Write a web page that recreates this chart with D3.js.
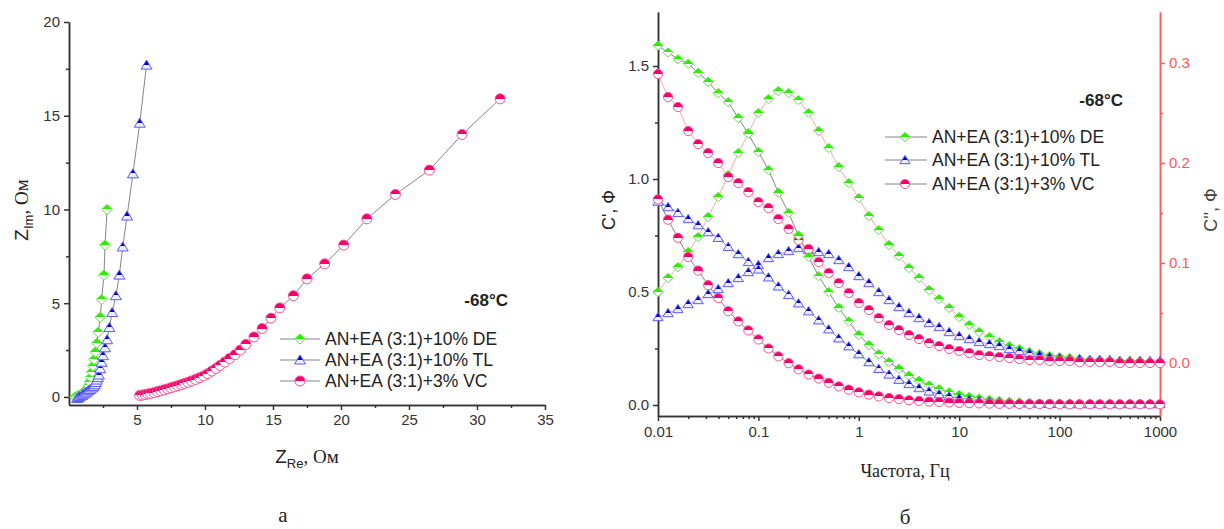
<!DOCTYPE html>
<html>
<head>
<meta charset="utf-8">
<title>Impedance spectra at -68°C</title>
<script src="https://d3js.org/d3.v7.min.js"></script>
<style>
  body { margin: 0; background: #fff; }
  svg { display: block; background: #fff; }
  text { font-family: "Liberation Sans", Arial, sans-serif; fill: #222; }
  .serif { font-family: "Liberation Serif", "Times New Roman", serif; }
  .axis path, .axis line { stroke: #333; stroke-width: 1.5; }
  .axis text { font-size: 15px; fill: #333; font-family: "Liberation Sans", Arial, sans-serif; }
  .axis.red path, .axis.red line { stroke: #ff5a5a; }
  .axis.red text { fill: #ff5a5a; }
</style>
</head>
<body>
<svg></svg>
<script>
// ---- data ----
var seriesNames = ["AN+EA (3:1)+10% DE", "AN+EA (3:1)+10% TL", "AN+EA (3:1)+3% VC"];
var tempLabel = "-68°C";

// panel a: Nyquist, Z_Re / Z_Im in Ohm
var deRe = [0.45,0.55,0.65,0.75,0.85,0.95,1.05,1.15,1.25,1.35,1.45,1.52,1.6,1.68,1.76,1.85,1.95,2.05,2.15,2.3,2.4,2.57,2.65,2.8];
var deIm = [0.0,0.03,0.06,0.09,0.13,0.18,0.24,0.3,0.38,0.48,0.62,0.8,1.05,1.33,1.65,2.0,2.4,2.87,3.45,4.25,5.2,6.5,8.1,10.0];
var tlRe = [0.6,0.7,0.8,0.95,1.05,1.18,1.3,1.42,1.55,1.7,1.8,1.9,1.98,2.05,2.13,2.2,2.3,2.4,2.5,2.65,2.8,2.97,3.17,3.45,3.7,3.95,4.27,4.7,5.2,5.7];
var tlIm = [-0.08,-0.03,0.02,0.08,0.14,0.2,0.26,0.33,0.4,0.48,0.56,0.65,0.77,0.9,1.03,1.17,1.5,1.85,2.2,2.62,3.05,3.7,4.5,5.4,6.5,8.0,9.65,11.9,14.6,17.7];
var vcRe = [5.2,5.4,5.6,5.8,6.0,6.25,6.5,6.75,7.0,7.25,7.5,7.75,8.0,8.25,8.5,8.75,9.0,9.3,9.6,9.9,10.2,10.5,10.8,11.1,11.45,11.8,12.2,12.6,13.0,13.6,14.2,14.85,15.5,16.5,17.5,18.8,20.2,21.9,24.0,26.5,28.9,31.7];
var vcIm = [0.08,0.1,0.13,0.16,0.19,0.23,0.28,0.33,0.38,0.43,0.49,0.54,0.6,0.66,0.72,0.78,0.85,0.93,1.02,1.12,1.24,1.38,1.52,1.68,1.86,2.05,2.25,2.5,2.8,3.2,3.65,4.2,4.75,5.4,6.3,7.1,8.1,9.5,10.8,12.1,14.0,15.9];

// panel б: capacitance vs frequency
var freq = [0.01,0.0126,0.0158,0.02,0.0251,0.0316,0.0398,0.0501,0.0631,0.0794,
            0.1,0.126,0.158,0.2,0.251,0.316,0.398,0.501,0.631,0.794,
            1,1.26,1.58,2,2.51,3.16,3.98,5.01,6.31,7.94,
            10,12.6,15.8,20,25.1,31.6,39.8,50.1,63.1,79.4,
            100,126,158,200,251,316,398,501,631,794,1000];
var deC1 = [1.59,1.56,1.53,1.51,1.47,1.43,1.38,1.34,1.27,1.20,
            1.12,1.04,0.94,0.85,0.75,0.655,0.57,0.50,0.43,0.37,
            0.31,0.265,0.225,0.19,0.16,0.13,0.107,0.087,0.07,0.056,
            0.045,0.036,0.029,0.023,0.018,0.014,0.011,0.009,0.007,0.006,
            0.005,0.005,0.005,0.004,0.004,0.004,0.004,0.004,0.004,0.004,0.004];
var tlC1 = [0.90,0.876,0.85,0.823,0.796,0.765,0.74,0.70,0.668,0.633,
            0.60,0.565,0.525,0.487,0.45,0.415,0.375,0.335,0.295,0.26,
            0.225,0.19,0.16,0.135,0.112,0.093,0.075,0.06,0.048,0.038,
            0.03,0.024,0.019,0.015,0.012,0.01,0.008,0.007,0.006,0.005,
            0.005,0.004,0.004,0.004,0.004,0.004,0.004,0.004,0.004,0.004,0.004];
var vcC1 = [0.91,0.82,0.74,0.655,0.595,0.53,0.473,0.415,0.37,0.33,
            0.29,0.25,0.215,0.185,0.158,0.135,0.117,0.098,0.082,0.068,
            0.056,0.046,0.038,0.031,0.026,0.021,0.018,0.015,0.013,0.011,
            0.009,0.008,0.007,0.006,0.005,0.005,0.004,0.004,0.004,0.004,
            0.003,0.003,0.003,0.003,0.003,0.003,0.003,0.003,0.003,0.003,0.003];
var deC2 = [0.071,0.085,0.096,0.111,0.126,0.146,0.166,0.188,0.21,0.23,
            0.25,0.264,0.272,0.270,0.263,0.25,0.232,0.215,0.196,0.18,
            0.165,0.147,0.133,0.118,0.107,0.095,0.085,0.073,0.064,0.055,
            0.046,0.038,0.031,0.026,0.021,0.017,0.014,0.011,0.009,0.007,
            0.006,0.005,0.004,0.003,0.003,0.002,0.002,0.002,0.002,0.001,0.001];
var tlC2 = [0.046,0.05,0.054,0.059,0.063,0.069,0.074,0.08,0.085,0.091,
            0.098,0.105,0.109,0.112,0.115,0.113,0.111,0.109,0.103,0.096,
            0.087,0.08,0.071,0.063,0.056,0.05,0.045,0.04,0.036,0.031,
            0.027,0.024,0.021,0.019,0.017,0.014,0.012,0.01,0.008,0.006,
            0.005,0.004,0.004,0.003,0.003,0.003,0.002,0.002,0.002,0.002,0.002];
var vcC2 = [0.289,0.266,0.256,0.232,0.219,0.21,0.20,0.186,0.18,0.171,
            0.161,0.155,0.144,0.134,0.123,0.114,0.101,0.09,0.08,0.07,
            0.06,0.053,0.045,0.038,0.033,0.028,0.024,0.02,0.017,0.014,
            0.012,0.01,0.008,0.007,0.006,0.005,0.004,0.003,0.003,0.002,
            0.002,0.002,0.001,0.001,0.001,0.001,0.0,0.0,0.0,0.0,0.0];

var nyqTicksX = [5,10,15,20,25,30,35];
var nyqTicksY = [0,5,10,15,20];
var freqTicks = [0.01,0.1,1,10,100,1000];
var c1Ticks = [0,0.5,1.0,1.5];
var c2Ticks = [0,0.1,0.2,0.3];

// ---- styles per series ----
var styles = [
  {id: "de", shape: "diamond",  fill: "#2aee00", edge: "#66e64d", low: "#ffffff"},
  {id: "tl", shape: "triangle", fill: "#0000cc", edge: "#5a5aff", low: "#eeeeff"},
  {id: "vc", shape: "circle",   fill: "#f5006a", edge: "#ff4f95", low: "#ffffff"}
];

var svg = d3.select("svg").attr("width", 1224).attr("height", 529);
var defs = svg.append("defs");

styles.forEach(function(s) {
  var g = defs.append("linearGradient").attr("id", "half-" + s.id)
    .attr("x1", 0).attr("y1", 0).attr("x2", 0).attr("y2", 1);
  g.append("stop").attr("offset", "0").attr("stop-color", s.fill);
  g.append("stop").attr("offset", "0.5").attr("stop-color", s.fill);
  g.append("stop").attr("offset", "0.5").attr("stop-color", s.low);
  g.append("stop").attr("offset", "1").attr("stop-color", s.low);
});

function shapePath(shape, r) {
  if (shape == "diamond") return "M0," + (-r) + "L" + (r + 0.5) + ",0L0," + r + "L" + (-r - 0.5) + ",0Z";
  if (shape == "triangle") return "M0," + (-r) + "L" + (r + 0.5) + "," + (r * 0.8) + "L" + (-r - 0.5) + "," + (r * 0.8) + "Z";
  return "M" + (-r) + ",0A" + r + "," + r + " 0 1 1 " + r + ",0A" + r + "," + r + " 0 1 1 " + (-r) + ",0Z";
}

function drawMarkers(g, pts, s, r) {
  g.selectAll(null).data(pts).enter().append("path")
    .attr("transform", function(d) { return "translate(" + d + ")"; })
    .attr("d", shapePath(s.shape, r))
    .attr("fill", "url(#half-" + s.id + ")")
    .attr("stroke", s.edge)
    .attr("stroke-width", 1);
}

function drawLine(g, pts, color, w) {
  g.append("path").attr("d", d3.line()(pts))
    .attr("fill", "none").attr("stroke", color).attr("stroke-width", w);
}

function minorAxis(axisFn, scale, vals, size) {
  return axisFn(scale).tickValues(vals).tickSize(size).tickFormat("").tickSizeOuter(0);
}

// =============== panel a ===============
var xN = d3.scaleLinear().domain([0, 35]).range([69, 545]);
var yN = d3.scaleLinear().domain([-0.43, 20]).range([405, 22]);

var pa = svg.append("g");
pa.append("g").attr("class", "axis").attr("transform", "translate(0,405)")
  .call(minorAxis(d3.axisBottom, xN, [2.5,7.5,12.5,17.5,22.5,27.5,32.5], 3));
pa.append("g").attr("class", "axis").attr("transform", "translate(0,405)")
  .call(d3.axisBottom(xN).tickValues(nyqTicksX).tickSize(5).tickSizeOuter(0).tickPadding(4));
pa.append("g").attr("class", "axis").attr("transform", "translate(69,0)")
  .call(minorAxis(d3.axisLeft, yN, [2.5,7.5,12.5,17.5], 3));
pa.append("g").attr("class", "axis").attr("transform", "translate(69,0)")
  .call(d3.axisLeft(yN).tickValues(nyqTicksY).tickSize(5).tickSizeOuter(0).tickPadding(4));

var nyq = [
  d3.zip(deRe, deIm), d3.zip(tlRe, tlIm), d3.zip(vcRe, vcIm)
].map(function(arr) { return arr.map(function(p) { return [xN(p[0]), yN(p[1])]; }); });

nyq.forEach(function(pts) { drawLine(pa, pts, "#777", 0.9); });
nyq.forEach(function(pts, i) { drawMarkers(pa, pts, styles[i], 5); });

// axis titles a
var tA = pa.append("text").attr("transform", "translate(28,210) rotate(-90)").attr("text-anchor", "middle").style("font-size", "19px");
tA.append("tspan").text("Z");
tA.append("tspan").attr("dy", 5).style("font-size", "13px").text("Im");
tA.append("tspan").attr("dy", -5).attr("class", "serif").text(", Ом");

var tR = pa.append("text").attr("x", 307).attr("y", 463).attr("text-anchor", "middle").style("font-size", "19px");
tR.append("tspan").text("Z");
tR.append("tspan").attr("dy", 5).style("font-size", "13px").text("Re");
tR.append("tspan").attr("dy", -5).attr("class", "serif").text(", Ом");

pa.append("text").attr("x", 508).attr("y", 306).attr("text-anchor", "end")
  .style("font-size", "17px").style("font-weight", "bold").text(tempLabel);

seriesNames.forEach(function(name, i) {
  var y = [339, 360, 381][i];
  drawLine(pa, [[280, y], [320, y]], "#777", 0.9);
  drawMarkers(pa, [[300, y]], styles[i], 5);
  pa.append("text").attr("x", 325).attr("y", y + 6).style("font-size", "17.5px").text(name);
});

pa.append("text").attr("class", "serif").attr("x", 283).attr("y", 522)
  .attr("text-anchor", "middle").style("font-size", "21px").text("а");

// =============== panel б ===============
var xF = d3.scaleLog().domain([0.01, 1000]).range([658, 1160]);
var yC1 = d3.scaleLinear().domain([-0.0487, 1.739]).range([416, 12]);
var yC2 = d3.scaleLinear().domain([-0.053, 0.351]).range([416, 12]);

var minorF = [];
freqTicks.slice(0, -1).forEach(function(dec) {
  for (var m = 2; m <= 9; m++) minorF.push(dec * m);
});

var pb = svg.append("g");
pb.append("g").attr("class", "axis").attr("transform", "translate(0,416)")
  .call(minorAxis(d3.axisBottom, xF, minorF, 3));
pb.append("g").attr("class", "axis").attr("transform", "translate(0,416)")
  .call(d3.axisBottom(xF).tickValues(freqTicks).tickSize(5).tickSizeOuter(0).tickPadding(5)
    .tickFormat(function(d) { return String(d); }));
pb.append("g").attr("class", "axis").attr("transform", "translate(658,0)")
  .call(minorAxis(d3.axisLeft, yC1, [0.25, 0.75, 1.25], 3));
pb.append("g").attr("class", "axis").attr("transform", "translate(658,0)")
  .call(d3.axisLeft(yC1).tickValues(c1Ticks).tickSize(5).tickSizeOuter(0).tickPadding(4).tickFormat(d3.format(".1f")));
pb.append("g").attr("class", "axis red").attr("transform", "translate(1160,0)")
  .call(minorAxis(d3.axisRight, yC2, [0.05, 0.15, 0.25], 3));
pb.append("g").attr("class", "axis red").attr("transform", "translate(1160,0)")
  .call(d3.axisRight(yC2).tickValues(c2Ticks).tickSize(5).tickSizeOuter(0).tickPadding(4).tickFormat(d3.format(".1f")));

var c1 = [deC1, tlC1, vcC1].map(function(arr) {
  return arr.map(function(v, k) { return [xF(freq[k]), yC1(v)]; });
});
var c2 = [deC2, tlC2, vcC2].map(function(arr) {
  return arr.map(function(v, k) { return [xF(freq[k]), yC2(v)]; });
});

c1.forEach(function(pts) { drawLine(pb, pts, "#777", 0.9); });
c2.forEach(function(pts) { drawLine(pb, pts, "#f4a0a0", 0.9); });
c2.forEach(function(pts, i) { drawMarkers(pb, pts, styles[i], 4.6); });
c1.forEach(function(pts, i) { drawMarkers(pb, pts, styles[i], 4.6); });

pb.append("text").attr("transform", "translate(615,210) rotate(-90)").attr("text-anchor", "middle")
  .style("font-size", "18px").text("C', Ф");
pb.append("text").attr("transform", "translate(1217,210) rotate(-90)").attr("text-anchor", "middle")
  .style("font-size", "18px").style("fill", "#444").text("C'', Ф");
pb.append("text").attr("class", "serif").attr("x", 905).attr("y", 477).attr("text-anchor", "middle")
  .style("font-size", "18px").text("Частота, Гц");

pb.append("text").attr("x", 1123).attr("y", 106).attr("text-anchor", "end")
  .style("font-size", "17px").style("font-weight", "bold").text(tempLabel);

seriesNames.forEach(function(name, i) {
  var y = [137, 160, 184][i];
  drawLine(pb, [[885, y], [927, y]], "#777", 0.9);
  drawMarkers(pb, [[905, y]], styles[i], 4.6);
  pb.append("text").attr("x", 932).attr("y", y + 6).style("font-size", "17.5px").text(name);
});

pb.append("text").attr("class", "serif").attr("x", 905).attr("y", 524)
  .attr("text-anchor", "middle").style("font-size", "21px").text("б");
</script>
</body>
</html>
